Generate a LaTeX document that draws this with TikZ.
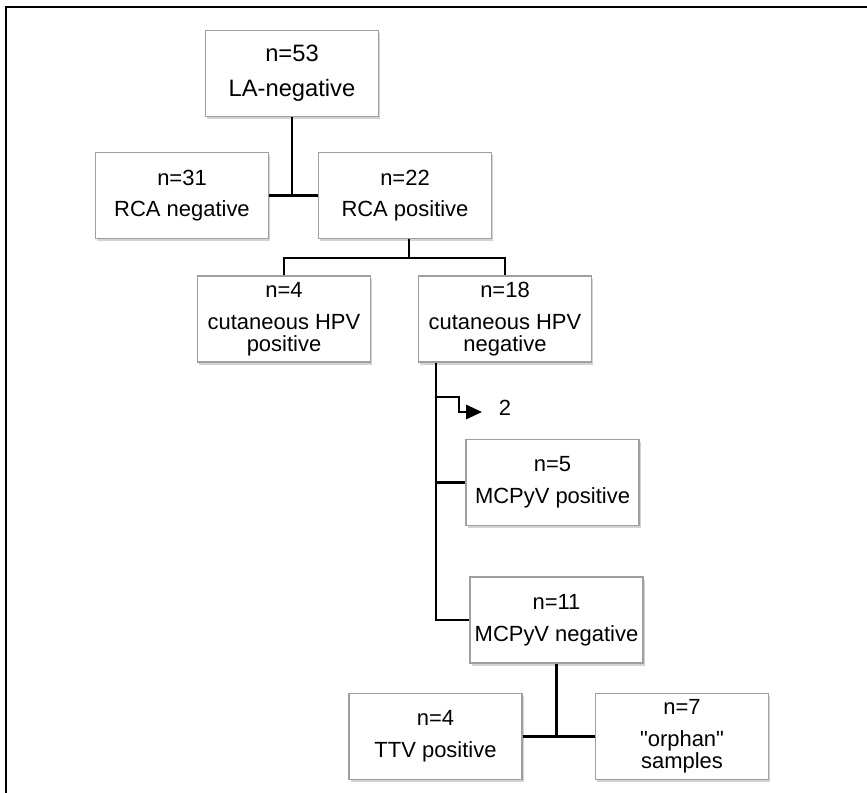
\documentclass[tikz,border=0pt]{standalone}
\usepackage{fontspec}
\setmainfont{Liberation Sans}
\usepackage{tikz}
\usetikzlibrary{arrows.meta, positioning, shadows}

\begin{document}
\begin{tikzpicture}[x=0.02cm, y=-0.02cm,
    box/.style={draw=gray!75, line width=0.8pt, fill=white, align=center,
                minimum width=3.46cm, minimum height=1.72cm, inner sep=2pt,
                font=\fontsize{12.5}{12.5}\selectfont,
                drop shadow={shadow xshift=1pt, shadow yshift=-1.5pt,
                             opacity=0.35, fill=gray}},
    link/.style={line width=1.35pt, black}]
  \useasboundingbox (0,0) rectangle (867,793);
  % frame
  \draw[line width=1.3pt] (6,793) -- (6,7) -- (867,7);

  \node[box, font=\fontsize{13.5}{13.5}\selectfont] (top) at (292,73.5)
        {n=53\\[6.5pt]LA-negative};
  \node[box] (rcaneg) at (182,195.5) {n=31\\[5.5pt]RCA negative};
  \node[box] (rcapos) at (405,195.5) {n=22\\[5.5pt]RCA positive};
  \node[box] (hpvpos) at (284,319) {n=4\\[5.5pt]cutaneous HPV\\positive};
  \node[box] (hpvneg) at (505,319) {n=18\\[5.5pt]cutaneous HPV\\negative};
  \node[box] (mcpos)  at (552.5,482.5) {n=5\\[5.5pt]MCPyV positive};
  \node[box] (mcneg)  at (556.5,620) {n=11\\[5.5pt]MCPyV negative};
  \node[box] (ttv)    at (435.5,736.5) {n=4\\[5.5pt]TTV positive};
  \node[box] (orphan) at (682,736.5)
        {n=7\\[5.5pt]\textquotedbl orphan\textquotedbl\\samples};
  \node[font=\fontsize{12.5}{12.5}\selectfont, inner sep=0pt] (two) at (505,407.5) {2};

  \coordinate (split) at (409,258);
  \coordinate (trunk) at (436,362);
  \coordinate (bend)  at (459,397);
  \coordinate (tip)   at (482,412);

  \draw[link] (top) -- (top |- rcaneg.east);
  \draw[link] (rcaneg) -- (rcapos);
  \draw[link] (rcapos.south -| split) -- (split);
  \draw[link] (hpvpos.north) |- (split) -| (hpvneg.north);
  \draw[link] (hpvneg.south -| trunk) |- (mcneg.west);
  \draw[link] (trunk |- mcpos.west) -- (mcpos.west);
  \draw[link, -{Triangle[length=9pt, width=8pt]}]
        (trunk |- bend) -- (bend) |- (tip);
  \draw[link] (mcneg) -- (mcneg |- ttv.east);
  \draw[link] (ttv) -- (orphan);
\end{tikzpicture}
\end{document}
